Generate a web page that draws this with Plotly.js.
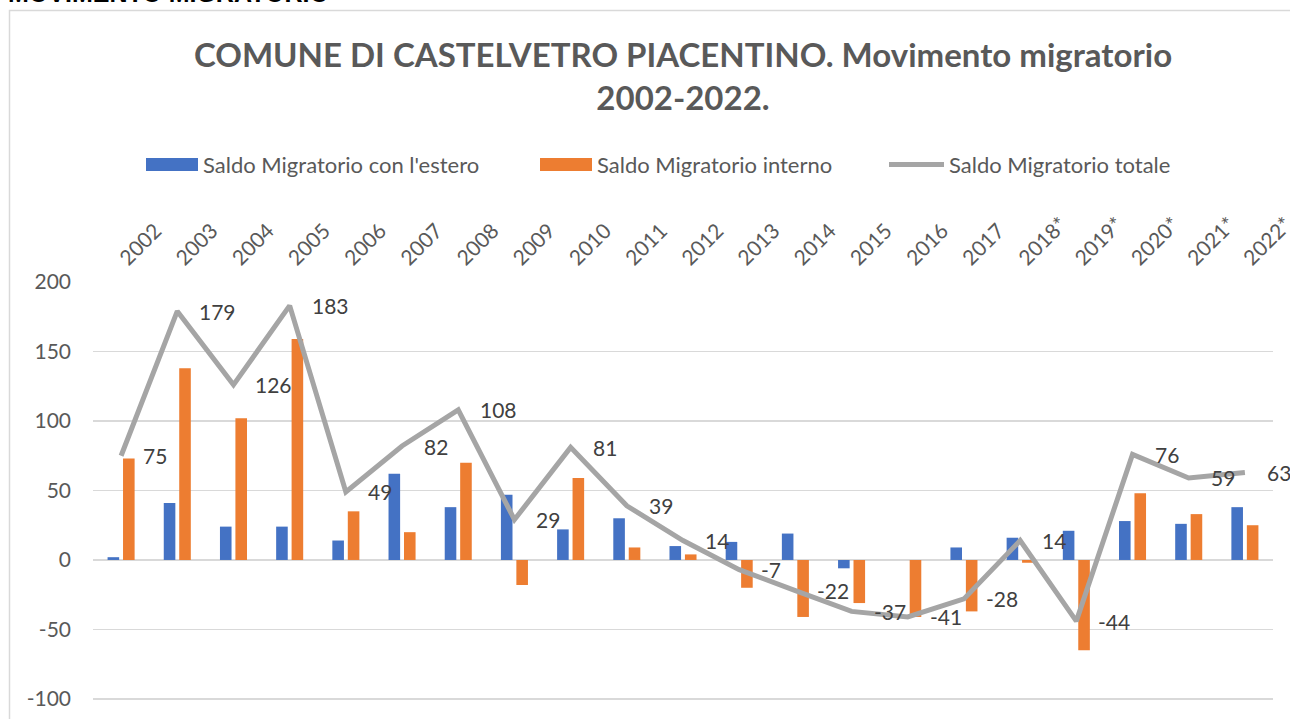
<!DOCTYPE html>
<html>
<head>
<meta charset="utf-8">
<script src="https://cdn.plot.ly/plotly-3.0.1.min.js"></script>
<style>
  html, body { margin: 0; padding: 0; background: #ffffff; }
  #chart { width: 1290px; height: 719px; }
</style>
</head>
<body>
<div id="chart"></div>
<script>
// ---- Data ----
const years = ["2002","2003","2004","2005","2006","2007","2008","2009","2010","2011","2012",
               "2013","2014","2015","2016","2017","2018*","2019*","2020*","2021*","2022*"];
const saldoEstero  = [2, 41, 24, 24, 14, 62, 38, 47, 22, 30, 10, 13, 19, -6, 0, 9, 16, 21, 28, 26, 38];
const saldoInterno = [73, 138, 102, 159, 35, 20, 70, -18, 59, 9, 4, -20, -41, -31, -41, -37, -2, -65, 48, 33, 25];
const saldoTotale  = [75, 179, 126, 183, 49, 82, 108, 29, 81, 39, 14, -7, -22, -37, -41, -28, 14, -44, 76, 59, 63];

const yTickVals = [-100, -50, 0, 50, 100, 150, 200];
const yTickText = ["-100", "-50", "0", "50", "100", "150", "200"];

const seriesNames = ["Saldo Migratorio con l'estero", "Saldo Migratorio interno", "Saldo Migratorio totale"];
const chartTitle = "COMUNE DI CASTELVETRO PIACENTINO. Movimento migratorio<br>2002-2022.";
const pageHeading = "MOVIMENTO MIGRATORIO";

// ---- Style / layout ----
const W = 1290, H = 719;
const M = { l: 93, r: 17, t: 282, b: 19 };
const PW = W - M.l - M.r, PH = H - M.t - M.b;
const px = x => (x - M.l) / PW;
const py = y => (H - M.b - y) / PH;

const FONT = "Lato, 'Open Sans', sans-serif";
const GREY_TXT = "#595959";
const BLUE = "#4472C4", ORANGE = "#ED7D31", GREY = "#A5A5A5";

const traces = [
  { type: "bar", x: years, y: saldoEstero, name: seriesNames[0], marker: { color: BLUE }, hoverinfo: "skip" },
  { type: "bar", x: years, y: saldoInterno, name: seriesNames[1], marker: { color: ORANGE }, hoverinfo: "skip" },
  { type: "scatter", mode: "lines", x: years, y: saldoTotale, name: seriesNames[2],
    line: { color: GREY, width: 5 }, hoverinfo: "skip" }
];

// data labels of the total line (category index positions on the category axis)
const annotations = saldoTotale.map((v, i) => ({
  x: i, y: v, xref: "x", yref: "y", text: String(v),
  showarrow: false, xanchor: "left", yanchor: "middle", xshift: 20,
  font: { family: FONT, size: 21, color: "#404040" }
}));

// custom legend
const legY = 164.5;
const legendItems = [
  { x0: 146, x1: 198, tx: 201, kind: "rect", color: BLUE, name: seriesNames[0] },
  { x0: 540, x1: 592, tx: 595, kind: "rect", color: ORANGE, name: seriesNames[1] },
  { x0: 889, x1: 944, tx: 947, kind: "line", color: GREY, name: seriesNames[2] }
];
const shapes = [];
legendItems.forEach(it => {
  if (it.kind === "rect") {
    shapes.push({ type: "rect", xref: "paper", yref: "paper",
      x0: px(it.x0), x1: px(it.x1), y0: py(legY + 6.5), y1: py(legY - 6.5),
      fillcolor: it.color, line: { width: 0 } });
  } else {
    shapes.push({ type: "line", xref: "paper", yref: "paper",
      x0: px(it.x0), x1: px(it.x1), y0: py(legY), y1: py(legY),
      line: { color: it.color, width: 5 } });
  }
  annotations.push({ xref: "paper", yref: "paper", x: px(it.tx), y: py(legY),
    xanchor: "left", yanchor: "middle", showarrow: false, text: it.name,
    font: { family: FONT, size: 22, color: GREY_TXT } });
});

// outer chart border
shapes.push({ type: "rect", xref: "paper", yref: "paper",
  x0: px(9.5), x1: px(1300), y0: py(730), y1: py(10.5),
  line: { color: "#D9D9D9", width: 1.5 }, fillcolor: "rgba(0,0,0,0)", layer: "below" });

// page heading (cut off at top)
annotations.push({ xref: "paper", yref: "paper", x: px(6), y: py(9),
  xanchor: "left", yanchor: "bottom", showarrow: false, text: "<b>" + pageHeading + "</b>",
  font: { family: "'Liberation Sans', Arial, sans-serif", size: 25, color: "#000000" } });

const layout = {
  width: W, height: H,
  margin: M,
  paper_bgcolor: "#ffffff", plot_bgcolor: "#ffffff",
  showlegend: false,
  barmode: "group", bargap: 0.45, bargroupgap: 0.25,
  title: { text: "<b>" + chartTitle + "</b>", x: 0.5, xref: "paper", xanchor: "center",
           y: 1 - 67 / H, yref: "container", yanchor: "middle",
           font: { family: FONT, size: 33, color: GREY_TXT } },
  xaxis: { type: "category", range: [-0.5, years.length - 0.5], side: "top", tickangle: -45,
           showgrid: false, zeroline: false, showline: false, ticks: "", ticklabelstandoff: 7,
           tickfont: { family: FONT, size: 21, color: GREY_TXT } },
  yaxis: { range: [-100.75, 200], tickvals: yTickVals, ticktext: yTickText,
           showgrid: true, gridcolor: "#D9D9D9", gridwidth: 1.5,
           zeroline: true, zerolinecolor: "#D9D9D9", zerolinewidth: 1.5, showline: false, ticks: "",
           ticklabelstandoff: 21,
           tickfont: { family: FONT, size: 21, color: GREY_TXT } },
  annotations: annotations,
  shapes: shapes
};

Plotly.newPlot("chart", traces, layout, { displayModeBar: false, staticPlot: true });
</script>
</body>
</html>
